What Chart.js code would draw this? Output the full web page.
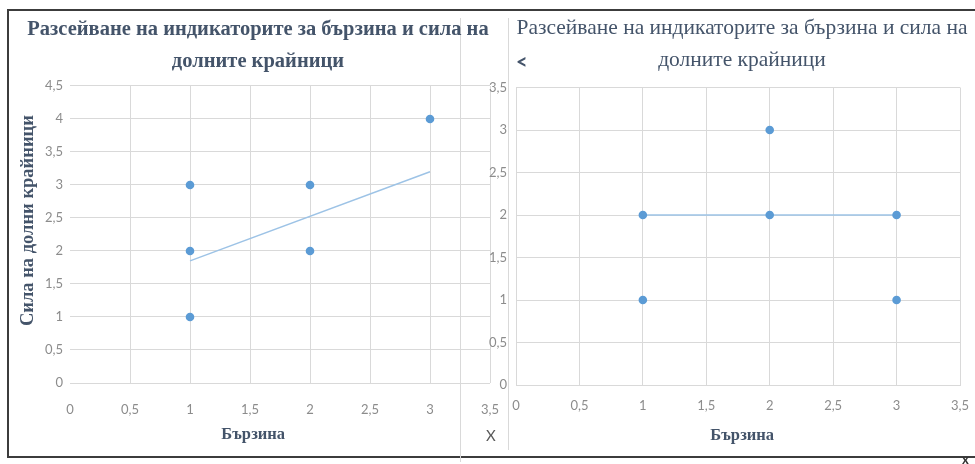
<!DOCTYPE html>
<html>
<head>
<meta charset="utf-8">
<script src="https://cdn.jsdelivr.net/npm/chart.js@4/dist/chart.umd.min.js"></script>
<style>
  body { margin: 0; background: #fff; width: 975px; height: 464px; overflow: hidden; position: relative; }
  #frame { position: absolute; left: 7px; top: 9px; width: 975px; height: 445px; border: 2px solid #3c3c3c; border-right: none; }
  .sep { position: absolute; width: 1px; background: #d9d9d9; }
  canvas { position: absolute; top: 0; }
  .mark { position: absolute; font-family: Lato, sans-serif; color: #595959; }
</style>
</head>
<body>
<div id="frame"></div>
<div class="sep" style="left:460px;top:18px;height:444px"></div>
<div class="sep" style="left:508px;top:18px;height:432px"></div>
<canvas id="leftChart" width="520" height="464" style="left:0"></canvas>
<canvas id="rightChart" width="532" height="464" style="left:470px"></canvas>
<span class="mark" style="left:486px;top:426px;font-size:15px">X</span>
<span class="mark" style="left:516px;top:49px;font-size:20px;font-weight:bold;color:#44546a">&lt;</span>
<span class="mark" style="left:962px;top:451px;font-size:13px;font-weight:bold;color:#333">x</span>
<script>
// chart text
const titleLines = ["Разсейване на индикаторите за бързина и сила на", "долните крайници"]
const xTitle = "Бързина"
const yTitleLeft = "Сила на долни крайници"

// left chart: points and trend line ends
const leftX = [1, 1, 1, 2, 2, 3]
const leftY = [3, 2, 1, 3, 2, 4]
const leftTrendX = [1, 3]
const leftTrendY = [1.85, 3.2]

// right chart: points and trend line ends
const rightX = [1, 1, 2, 2, 3, 3]
const rightY = [2, 1, 3, 2, 2, 1]
const rightTrendX = [1, 3]
const rightTrendY = [2, 2]

// axis ranges
const xMax = 3.5
const leftYMax = 4.5
const rightYMax = 3.5
const tickStep = 0.5

const blue = "#5b9bd5"
const trendBlue = "#9dc3e6"
const gridGray = "#d9d9d9"
const tickGray = "#8c8c8c"
const titleColor = "#44546a"

const toPoints = (xs, ys) => xs.map((x, i) => ({ x: x, y: ys[i] }))
const comma = v => String(v).replace(".", ",")
// non-breaking spaces nudge the axis titles off-centre like in the original
const nb = n => "\u00a0".repeat(n)

function datasets(xs, ys, tx, ty) {
  return [
    {
      data: toPoints(xs, ys),
      pointRadius: 4.3,
      pointBackgroundColor: blue,
      pointBorderWidth: 0
    },
    {
      data: toPoints(tx, ty),
      showLine: true,
      borderColor: trendBlue,
      borderWidth: 1.5,
      pointRadius: 0
    }
  ]
}

const tickFont = { family: "Lato", size: 13 }

// Left chart
new Chart(document.querySelector("#leftChart"), {
  type: "scatter",
  data: { datasets: datasets(leftX, leftY, leftTrendX, leftTrendY) },
  options: {
    responsive: false,
    animation: false,
    layout: { padding: { left: 26, right: 30, top: 0, bottom: 8 } },
    plugins: {
      legend: { display: false },
      tooltip: { enabled: false },
      title: {
        display: true,
        text: titleLines,
        color: titleColor,
        font: { family: "Liberation Serif", size: 20.5, weight: "bold", lineHeight: 1.56 },
        padding: { top: 14, bottom: 8 }
      }
    },
    scales: {
      x: {
        type: "linear",
        min: 0,
        max: xMax,
        ticks: { stepSize: tickStep, callback: comma, color: tickGray, font: tickFont, padding: 19 },
        grid: {
          drawTicks: false,
          color: ctx => (ctx.tick && ctx.tick.value === 0) ? "rgba(0,0,0,0)" : gridGray
        },
        border: { display: false },
        title: {
          display: true,
          text: xTitle + nb(13),
          color: titleColor,
          font: { family: "Liberation Serif", size: 16.5, weight: "bold" },
          padding: { top: 4, bottom: 11 }
        },
        afterFit: s => { s.height = 73 }
      },
      y: {
        min: 0,
        max: leftYMax,
        ticks: { stepSize: tickStep, callback: comma, color: tickGray, font: tickFont, padding: 7 },
        grid: { drawTicks: false, color: gridGray },
        border: { display: false },
        title: {
          display: true,
          text: nb(6) + yTitleLeft,
          color: titleColor,
          font: { family: "Liberation Serif", size: 18.5, weight: "bold" },
          padding: { top: -9, bottom: 0 }
        },
        afterFit: s => { s.width = 44 }
      }
    }
  }
})

// Right chart
new Chart(document.querySelector("#rightChart"), {
  type: "scatter",
  data: { datasets: datasets(rightX, rightY, rightTrendX, rightTrendY) },
  options: {
    responsive: false,
    animation: false,
    layout: { padding: { left: 12, right: 0, top: 0, bottom: 6 } },
    plugins: {
      legend: { display: false },
      tooltip: { enabled: false },
      title: {
        display: true,
        text: titleLines,
        color: titleColor,
        font: { family: "Liberation Serif", size: 21.5, weight: "normal", lineHeight: 1.5 },
        padding: { top: 12, bottom: 11 }
      }
    },
    scales: {
      x: {
        type: "linear",
        min: 0,
        max: xMax,
        ticks: { stepSize: tickStep, callback: comma, color: tickGray, font: tickFont, padding: 13 },
        grid: { drawTicks: false, color: gridGray },
        border: { color: gridGray },
        title: {
          display: true,
          text: nb(2) + xTitle,
          color: titleColor,
          font: { family: "Liberation Serif", size: 16.5, weight: "bold" },
          padding: { top: 4, bottom: 12 }
        },
        afterFit: s => { s.height = 73 }
      },
      y: {
        min: 0,
        max: rightYMax,
        ticks: { stepSize: tickStep, callback: comma, color: tickGray, font: tickFont, padding: 9 },
        grid: { drawTicks: false, color: gridGray },
        border: { color: gridGray },
        afterFit: s => { s.width = 34 }
      },
      // empty right-hand box, only keeps the plot's right edge where the original has it
      y2: {
        position: "right",
        min: 0,
        max: rightYMax,
        ticks: { display: false },
        grid: { display: false },
        border: { display: false },
        afterFit: s => { s.width = 42 }
      }
    }
  }
})
</script>
</body>
</html>
